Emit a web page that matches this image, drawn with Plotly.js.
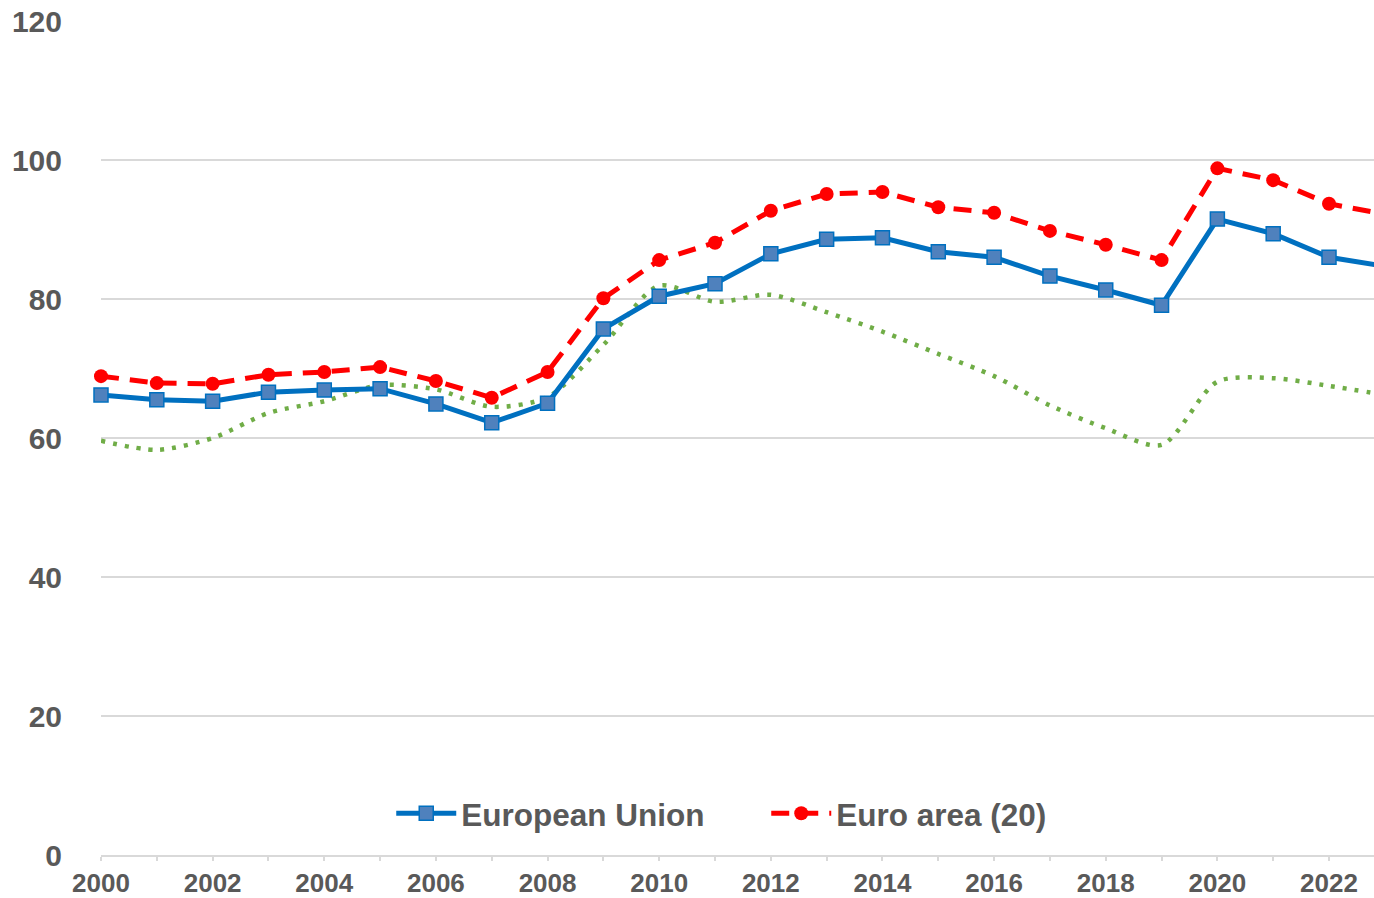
<!DOCTYPE html>
<html>
<head>
<meta charset="utf-8">
<script src="https://cdn.plot.ly/plotly-3.0.1.min.js"></script>
<style>html,body{margin:0;padding:0;background:#fff}#chart{width:1374px;height:898px}</style>
</head>
<body>
<div id="chart"></div>
<script>
const years = [2000,2001,2002,2003,2004,2005,2006,2007,2008,2009,2010,2011,2012,2013,2014,2015,2016,2017,2018,2019,2020,2021,2022,2023];
const euValues = [66.2,65.5,65.3,66.6,66.9,67.1,64.9,62.2,65.0,75.7,80.4,82.2,86.5,88.6,88.8,86.8,86.0,83.3,81.3,79.1,91.5,89.4,86.0,84.7];
const eaValues = [68.9,67.9,67.8,69.1,69.5,70.2,68.2,65.8,69.5,80.1,85.6,88.1,92.7,95.1,95.4,93.2,92.4,89.8,87.8,85.6,98.8,97.1,93.7,92.2];
const otherValues = [59.6,58.3,60.0,63.6,65.3,67.6,67.0,64.5,65.9,73.4,81.9,79.6,80.6,78.1,75.3,72.1,68.9,64.7,61.4,59.0,68.1,68.6,67.5,66.2];
const seriesNames = ['European Union','Euro area (20)'];
const yTicks = [0,20,40,60,80,100,120];

const FONT = '"Liberation Sans", Arial, sans-serif';
const GREY = '#595959';

const traces = [
  {
    x: years, y: otherValues, type: 'scatter', mode: 'lines', showlegend: false,
    line: {color: '#70AD47', width: 4.5, dash: '4px,8px', shape: 'spline', smoothing: 0.8},
    hoverinfo: 'skip'
  },
  {
    x: years, y: euValues, type: 'scatter', mode: 'lines+markers', name: seriesNames[0],
    line: {color: '#0070C0', width: 5},
    marker: {symbol: 'square', size: 14, color: '#4F81BD', line: {color: '#0070C0', width: 1.5}},
    cliponaxis: false
  },
  {
    x: years, y: eaValues, type: 'scatter', mode: 'lines+markers', name: seriesNames[1],
    line: {color: '#FF0000', width: 5, dash: '18px,11px'},
    marker: {symbol: 'circle', size: 14, color: '#FF0000'},
    cliponaxis: false
  }
];

const layout = {
  width: 1374, height: 898,
  margin: {l: 101, r: 0, t: 21, b: 43, pad: 0},
  paper_bgcolor: '#fff', plot_bgcolor: '#fff',
  showlegend: true,
  font: {family: FONT, color: GREY},
  xaxis: {
    range: [2000, 2022.806], dtick: 2, tick0: 2000,
    showgrid: false, zeroline: false,
    showline: true, linecolor: '#D9D9D9', linewidth: 2,
    ticks: 'outside', ticklen: 4, tickcolor: '#D9D9D9', tickwidth: 2,
    minor: {dtick: 1, ticks: 'outside', ticklen: 4, tickcolor: '#D9D9D9', tickwidth: 2, showgrid: false},
    tickfont: {family: FONT, size: 26, color: GREY, weight: 'bold'},
    fixedrange: true
  },
  yaxis: {
    range: [0, 120], tickvals: yTicks, ticktext: yTicks.map(String),
    showgrid: true, gridcolor: '#D9D9D9', gridwidth: 1.5,
    zeroline: false, showline: false, ticks: '',
    ticklabelstandoff: 38,
    tickfont: {family: FONT, size: 30, color: GREY, weight: 'bold'},
    fixedrange: true
  },
  legend: {
    orientation: 'h', x: 0.228, xanchor: 'left', y: 0.05, yanchor: 'middle',
    bgcolor: 'rgba(0,0,0,0)',
    font: {family: FONT, size: 31.5, color: GREY, weight: 'bold'},
    entrywidth: 300, itemwidth: 60
  }
};

Plotly.newPlot('chart', traces, layout, {displayModeBar: false, staticPlot: true});
</script>
</body>
</html>
